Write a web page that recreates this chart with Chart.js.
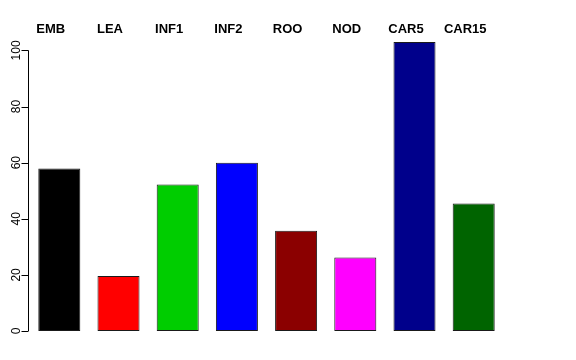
<!DOCTYPE html>
<html>
<head>
<meta charset="utf-8">
<script src="https://cdn.jsdelivr.net/npm/chart.js@4.4.0/dist/chart.umd.min.js"></script>
<style>
  html, body { margin: 0; padding: 0; background: #fff; }
  #wrap { width: 576px; height: 360px; }
</style>
</head>
<body>
<div id="wrap"><canvas id="myChart"></canvas></div>
<script>
// data
const categories = ['EMB', 'LEA', 'INF1', 'INF2', 'ROO', 'NOD', 'CAR5', 'CAR15']
const values = [57.9, 19.6, 52.2, 60.0, 35.7, 26.2, 103.0, 45.4]
const barColors = ['#000000', '#FF0000', '#00CD00', '#0000FF', '#8B0000', '#FF00FF', '#00008B', '#006400']
const yTicks = [0, 20, 40, 60, 80, 100]

// R style y axis, only from 0 to 100 with rotated labels
const rAxis = {
  id: 'rAxis',
  afterDraw: (chart) => {
    const ctx = chart.ctx
    const y = chart.scales.y
    const ax = 28.5
    ctx.save()
    ctx.strokeStyle = '#000'
    ctx.lineWidth = 1
    ctx.beginPath()
    ctx.moveTo(ax, y.getPixelForValue(yTicks[0]))
    ctx.lineTo(ax, y.getPixelForValue(yTicks[yTicks.length - 1]))
    yTicks.forEach(t => {
      const py = Math.round(y.getPixelForValue(t)) + 0.5
      ctx.moveTo(ax, py)
      ctx.lineTo(ax - 7, py)
    })
    ctx.stroke()
    ctx.fillStyle = '#000'
    ctx.font = '12px "Liberation Sans", Arial, sans-serif'
    ctx.textAlign = 'center'
    ctx.textBaseline = 'alphabetic'
    yTicks.forEach(t => {
      ctx.save()
      ctx.translate(19.5, y.getPixelForValue(t))
      ctx.rotate(-Math.PI / 2)
      ctx.fillText(String(t), 0, 0)
      ctx.restore()
    })
    ctx.restore()
  }
}

const data = {
  labels: categories,
  datasets: [{
    data: values,
    backgroundColor: barColors,
    borderColor: '#1a1a1a',
    borderWidth: 1,
    borderSkipped: false,
    barPercentage: 0.71,
    categoryPercentage: 1
  }]
}

const config = {
  type: 'bar',
  data,
  options: {
    responsive: true,
    maintainAspectRatio: false,
    animation: false,
    layout: {
      padding: {left: 29.7, right: 72.7, top: 20.6, bottom: 29}
    },
    scales: {
      x: {
        position: 'top',
        grid: {display: false, drawTicks: false},
        border: {display: false},
        ticks: {
          color: '#000',
          padding: 1.5,
          labelOffset: -8.5,
          maxRotation: 0,
          autoSkip: false,
          font: {family: '"Liberation Sans", Arial, sans-serif', size: 13, weight: 'bold'}
        }
      },
      y: {
        display: false,
        min: 0,
        max: 104
      }
    },
    plugins: {
      legend: {display: false},
      tooltip: {enabled: false}
    }
  },
  plugins: [rAxis]
}

const myChart = new Chart(document.getElementById('myChart'), config)
</script>
</body>
</html>
